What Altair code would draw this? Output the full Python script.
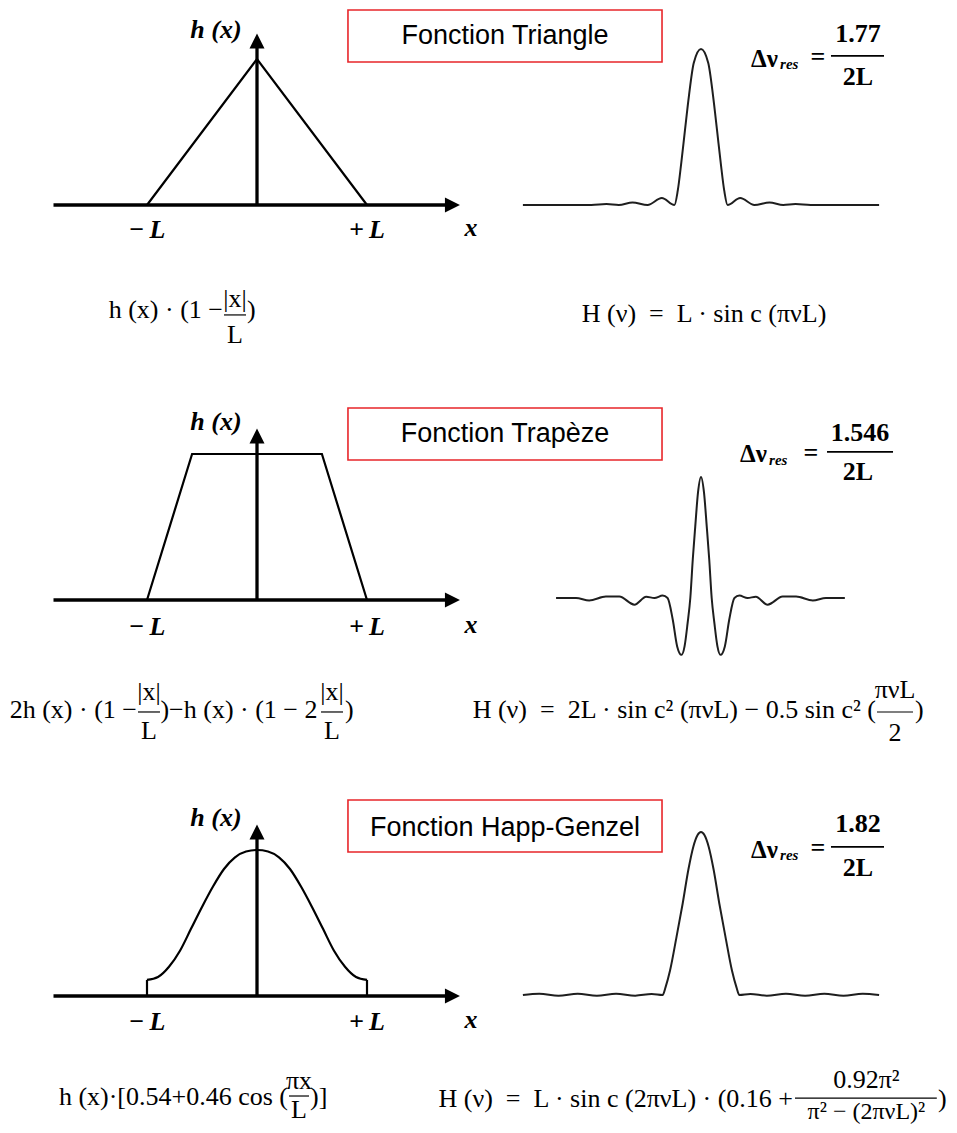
import altair as alt
import pandas as pd

# ---------------- values ----------------
# window functions h(x): x in units of L, h normalised to 1
tri_x = [-1.0, 0.0, 1.0]
tri_h = [0.0, 1.0, 0.0]

trap_x = [-1.0, -0.59, 0.59, 1.0]
trap_h = [0.0, 1.0, 1.0, 0.0]

hg_x = [-1.0, -0.9, -0.8, -0.7, -0.6, -0.5, -0.4, -0.3, -0.2, -0.1, 0.0,
        0.1, 0.2, 0.3, 0.4, 0.5, 0.6, 0.7, 0.8, 0.9, 1.0]
hg_h = [0.11, 0.13, 0.20, 0.31, 0.46, 0.61, 0.75, 0.87, 0.95, 0.99, 1.0,
        0.99, 0.95, 0.87, 0.75, 0.61, 0.46, 0.31, 0.20, 0.13, 0.11]
hg_edge_x = [-1.0, 1.0]
hg_edge_h = [0.11, 0.11]

# instrument functions H(nu): nu in units of 1/L, H normalised to the peak
tri_nu = [-6.5, -4.0, -3.45, -3.0, -2.5, -1.95, -1.43, -0.97, -0.85, -0.72, -0.585,
          -0.44, -0.265, 0.0, 0.265, 0.44, 0.585, 0.72, 0.85, 0.97, 1.43, 1.95,
          2.5, 3.0, 3.45, 4.0, 6.5]
tri_H = [0.0, 0.0, 0.006, 0.0, 0.016, 0.0, 0.045, 0.0, 0.09, 0.27, 0.48,
         0.70, 0.91, 1.0, 0.91, 0.70, 0.48, 0.27, 0.09, 0.0, 0.045, 0.0,
         0.016, 0.0, 0.006, 0.0, 0.0]

trap_nu = [-5.29, -4.56, -4.08, -3.47, -2.98, -2.43, -2.0, -1.70, -1.40, -1.22,
           -1.03, -0.87, -0.71, -0.60, -0.49, -0.39, -0.30, -0.21, -0.11, 0.0,
           0.11, 0.21, 0.30, 0.39, 0.49, 0.60, 0.71, 0.87, 1.03, 1.22, 1.40,
           1.70, 2.0, 2.43, 2.98, 3.47, 4.08, 4.56, 5.25]
trap_H = [0.0, 0.0, -0.02, 0.012, 0.012, -0.055, 0.01, 0.0, 0.02, 0.0,
          -0.18, -0.40, -0.47, -0.40, -0.21, 0.0, 0.32, 0.59, 0.87, 1.0,
          0.87, 0.59, 0.32, 0.0, -0.21, -0.40, -0.47, -0.40, -0.18, 0.0, 0.02,
          0.0, 0.01, -0.055, 0.012, 0.012, -0.02, 0.0, 0.0]

hg_nu = [-6.5, -5.9, -5.2, -4.5, -3.8, -3.1, -2.4, -1.8, -1.40, -1.29, -1.13,
         -0.89, -0.67, -0.46, -0.28, -0.13, 0.0, 0.13, 0.28, 0.46, 0.67, 0.89,
         1.13, 1.29, 1.40, 1.8, 2.4, 3.1, 3.8, 4.5, 5.2, 5.9, 6.5]
hg_H = [0.0, 0.008, -0.004, 0.008, -0.004, 0.008, -0.004, 0.006, 0.0, 0.05, 0.15,
        0.36, 0.56, 0.77, 0.91, 0.98, 1.0, 0.98, 0.91, 0.77, 0.56, 0.36,
        0.15, 0.05, 0.0, 0.006, -0.004, 0.008, -0.004, 0.008, -0.004, 0.008, 0.0]

# texts
titles = ["Fonction Triangle", "Fonction Trapèze", "Fonction Happ-Genzel"]
res_values = ["1.77", "1.546", "1.82"]
EN = "\u2002"

# ---------------- layout (page pixels) ----------------
W, H = 941, 1117
ORIGIN = 8
LEFT_CX, LEFT_K, LEFT_KY = 257, 110.0, 146.0
RIGHT_CX, RIGHT_K = 701, 27.4
ROW_BASE_L = [205, 600, 996]
ROW_BASE_R = [205, 598, 995]
RIGHT_KY = [156.0, 121.0, 163.0]


def xdom(c, k):
    return [(ORIGIN - c) / k, (ORIGIN + W - c) / k]


def ydom(b, k):
    return [(b - ORIGIN - H) / k, (b - ORIGIN) / k]


SERIF = "Liberation Serif"
SANS = "Liberation Sans"
STYLES = {
    "lab": dict(font=SERIF, fontSize=26, fontWeight="bold", fontStyle="italic", align="center"),
    "title": dict(font=SANS, fontSize=27, align="center"),
    "dnu": dict(font=SERIF, fontSize=25, fontWeight="bold", align="right"),
    "res": dict(font=SERIF, fontSize=15, fontWeight="bold", fontStyle="italic", align="left"),
    "num": dict(font=SERIF, fontSize=26, fontWeight="bold", align="center"),
    "fl": dict(font=SERIF, fontSize=26, align="left"),
    "fr": dict(font=SERIF, fontSize=26, align="right"),
    "fc": dict(font=SERIF, fontSize=26, align="center"),
    "fs": dict(font=SERIF, fontSize=24, align="center"),
}

# annotation placement per row, in the left panel's units (x in L, y in h)
ROWS = [
    dict(
        hy=1.199, Ly=-0.171, xy=-0.158, box=(0.827, 3.682, 0.979, 1.336), ty=1.158,
        pieces=[
            ("dnu", 4.736, 1.0, "Δν"), ("res", 4.755, 0.966, "res"),
            ("num", 5.100, 1.014, "="), ("num", 5.464, 1.171, res_values[0]),
            ("num", 5.464, 0.877, "2L"),
            ("fr", -0.309, -0.719, "h (x) · (1 −"), ("fc", -0.2, -0.644, "|x|"),
            ("fc", -0.2, -0.890, "L"), ("fl", -0.091, -0.719, ")"),
            ("fc", 4.064, -0.747, f"H (ν){EN}={EN}L · sin c (πνL)"),
        ],
        bars=[(5.218, 5.700, 1.021, 1.8), (-0.3, -0.1, -0.753, 1.2)],
    ),
    dict(
        hy=1.219, Ly=-0.185, xy=-0.171, box=(0.827, 3.682, 0.959, 1.315), ty=1.137,
        pieces=[
            ("dnu", 4.636, 1.0, "Δν"), ("res", 4.655, 0.959, "res"),
            ("num", 5.035, 1.007, "="), ("num", 5.482, 1.144, res_values[1]),
            ("num", 5.464, 0.877, "2L"),
            ("fr", -1.091, -0.753, "2h (x) · (1 −"), ("fc", -0.982, -0.630, "|x|"),
            ("fc", -0.982, -0.897, "L"), ("fc", -0.164, -0.753, ")−h (x) · (1 − 2"),
            ("fc", 0.682, -0.630, "|x|"), ("fc", 0.682, -0.897, "L"),
            ("fl", 0.80, -0.753, ")"),
            ("fr", 5.627, -0.753, f"H (ν){EN}={EN}2L · sin c² (πνL) − 0.5 sin c² ("),
            ("fc", 5.80, -0.616, "πνL"), ("fc", 5.80, -0.911, "2"),
            ("fl", 5.982, -0.753, ")"),
        ],
        bars=[(5.182, 5.782, 1.014, 1.8), (-1.082, -0.882, -0.767, 1.2),
              (0.582, 0.782, -0.767, 1.2), (5.636, 5.964, -0.767, 1.2)],
    ),
    dict(
        hy=1.219, Ly=-0.178, xy=-0.164, box=(0.827, 3.682, 0.986, 1.342), ty=1.151,
        pieces=[
            ("dnu", 4.736, 1.0, "Δν"), ("res", 4.755, 0.966, "res"),
            ("num", 5.100, 1.014, "="), ("num", 5.464, 1.178, res_values[2]),
            ("num", 5.464, 0.877, "2L"),
            ("fr", 0.282, -0.692, "h (x)·[0.54+0.46 cos ("),
            ("fc", 0.382, -0.582, "πx"), ("fc", 0.382, -0.781, "L"),
            ("fl", 0.482, -0.692, ")]"),
            ("fr", 4.873, -0.705, f"H (ν){EN}={EN}L · sin c (2πνL) · (0.16 +"),
            ("fc", 5.54, -0.575, "0.92π²"), ("fs", 5.54, -0.795, "π² − (2πνL)²"),
            ("fl", 6.19, -0.705, ")"),
        ],
        bars=[(5.218, 5.700, 1.021, 1.8), (0.291, 0.473, -0.685, 1.2),
              (4.891, 6.18, -0.699, 1.2)],
    ),
]

ARROW_R = "M0,0 L-2,-1 L-2,1 Z"
ARROW_U = "M0,0 L-1,2 L1,2 Z"


def left_group(r, shape_x, shape_h, extra_edges=False):
    cfg = ROWS[r]
    sx = alt.Scale(domain=xdom(LEFT_CX, LEFT_K), nice=False, zero=False)
    sy = alt.Scale(domain=ydom(ROW_BASE_L[r], LEFT_KY), nice=False, zero=False)

    def X(f):
        return alt.X(f, type="quantitative", scale=sx, axis=None)

    def Y(f):
        return alt.Y(f, type="quantitative", scale=sy, axis=None)

    layers = []
    bx0, bx1, by0, by1 = cfg["box"]
    box = pd.DataFrame({"x0": [bx0], "x1": [bx1], "y0": [by0], "y1": [by1]})
    layers.append(alt.Chart(box).mark_rect(fill="white", stroke="#e8262a", strokeWidth=1.6).encode(
        x=X("x0"), x2="x1", y=Y("y0"), y2="y1"))
    tdf = pd.DataFrame({"x": [(bx0 + bx1) / 2], "y": [cfg["ty"]], "t": [titles[r]]})
    layers.append(alt.Chart(tdf).mark_text(baseline="middle", color="black", **STYLES["title"]).encode(
        x=X("x"), y=Y("y"), text="t:N"))

    haxis = pd.DataFrame({"x0": [-1.85], "x1": [1.78], "y": [0.0]})
    layers.append(alt.Chart(haxis).mark_rule(color="black", strokeWidth=3.5).encode(
        x=X("x0"), x2="x1", y=Y("y")))
    vaxis = pd.DataFrame({"x": [0.0], "y0": [0.0], "y1": [1.12]})
    layers.append(alt.Chart(vaxis).mark_rule(color="black", strokeWidth=3.3).encode(
        x=X("x"), y=Y("y0"), y2="y1"))

    sdf = pd.DataFrame({"x": shape_x, "h": shape_h})
    interp = "monotone" if extra_edges else "linear"
    layers.append(alt.Chart(sdf).mark_line(color="black", strokeWidth=2.2, interpolate=interp).encode(
        x=X("x"), y=Y("h")))
    if extra_edges:
        edf = pd.DataFrame({"x": hg_edge_x, "y0": [0.0, 0.0], "y1": hg_edge_h})
        layers.append(alt.Chart(edf).mark_rule(color="black", strokeWidth=2.2).encode(
            x=X("x"), y=Y("y0"), y2="y1"))

    adf_r = pd.DataFrame({"x": [1.845], "y": [0.0]})
    layers.append(alt.Chart(adf_r).mark_point(shape=ARROW_R, filled=True, size=225, color="black",
                                              opacity=1, strokeWidth=0).encode(x=X("x"), y=Y("y")))
    adf_u = pd.DataFrame({"x": [0.0], "y": [1.175]})
    layers.append(alt.Chart(adf_u).mark_point(shape=ARROW_U, filled=True, size=225, color="black",
                                              opacity=1, strokeWidth=0).encode(x=X("x"), y=Y("y")))

    labels = pd.DataFrame({
        "x": [-0.373, -1.0, 1.0, 1.945],
        "y": [cfg["hy"], cfg["Ly"], cfg["Ly"], cfg["xy"]],
        "t": ["h (x)", "−\u2009L", "+\u2009L", "x"],
    })
    layers.append(alt.Chart(labels).mark_text(baseline="middle", color="black", **STYLES["lab"]).encode(
        x=X("x"), y=Y("y"), text="t:N"))

    pieces = pd.DataFrame(cfg["pieces"], columns=["s", "x", "y", "t"])
    for st in pieces["s"].unique():
        sub = pieces[pieces["s"] == st][["x", "y", "t"]]
        layers.append(alt.Chart(sub).mark_text(baseline="middle", color="black", **STYLES[st]).encode(
            x=X("x"), y=Y("y"), text="t:N"))

    for (x0, x1, yb, sw) in cfg["bars"]:
        bdf = pd.DataFrame({"x0": [x0], "x1": [x1], "y": [yb]})
        layers.append(alt.Chart(bdf).mark_rule(color="black", strokeWidth=sw).encode(
            x=X("x0"), x2="x1", y=Y("y")))
    return alt.layer(*layers)


def right_group(r, nu, val):
    sx = alt.Scale(domain=xdom(RIGHT_CX, RIGHT_K), nice=False, zero=False)
    sy = alt.Scale(domain=ydom(ROW_BASE_R[r], RIGHT_KY[r]), nice=False, zero=False)
    df = pd.DataFrame({"nu": nu, "H": val})
    return alt.Chart(df).mark_line(color="#1e1e1e", strokeWidth=2.0, interpolate="monotone").encode(
        x=alt.X("nu:Q", scale=sx, axis=None),
        y=alt.Y("H:Q", scale=sy, axis=None),
    )


groups = [
    left_group(0, tri_x, tri_h), right_group(0, tri_nu, tri_H),
    left_group(1, trap_x, trap_h), right_group(1, trap_nu, trap_H),
    left_group(2, hg_x, hg_h, extra_edges=True), right_group(2, hg_nu, hg_H),
]

chart = alt.layer(*groups).resolve_scale(x="independent", y="independent").properties(
    width=W, height=H, padding=0, autosize=alt.AutoSizeParams(type="none")
).configure_view(strokeWidth=0)

chart.save("out.html", embed_options={"renderer": "svg", "actions": False})
